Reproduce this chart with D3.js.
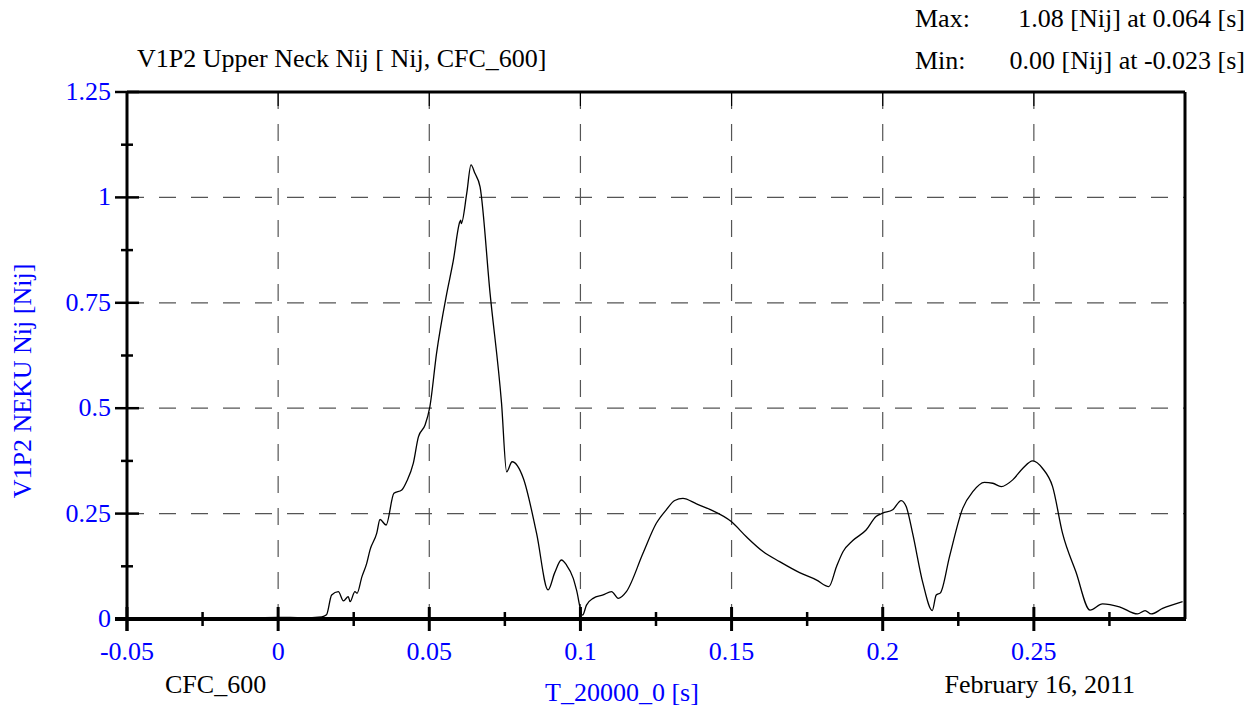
<!DOCTYPE html>
<html>
<head>
<meta charset="utf-8">
<script src="https://cdn.jsdelivr.net/npm/d3@7"></script>
<style>
  body { margin: 0; background: #fff; }
  svg text { font-family: "Liberation Serif", "Times New Roman", serif; }
</style>
</head>
<body>
<div id="chart-area"></div>
<script>
// Upper neck Nij trace
var times = [-0.05, -0.03, -0.023, -0.01, 0, 0.008, 0.0144, 0.016, 0.0177, 0.0199, 0.0216, 0.0232, 0.0238,
  0.0254, 0.0261, 0.0277, 0.0293, 0.0304, 0.0326, 0.0337, 0.0357, 0.0383, 0.0409, 0.0425, 0.0447,
  0.0464, 0.0486, 0.0502, 0.0524, 0.0558, 0.0579, 0.0601, 0.0604, 0.0606, 0.0624, 0.0638, 0.0651,
  0.0668, 0.0701, 0.0739, 0.0756, 0.0774, 0.0811, 0.0855, 0.0893, 0.0915, 0.0937, 0.0954, 0.0976,
  0.0987, 0.1007, 0.102, 0.1042, 0.1075, 0.1103, 0.1125, 0.1152, 0.1207, 0.1251, 0.1284, 0.1312,
  0.1339, 0.1384, 0.1428, 0.1499, 0.1549, 0.1604, 0.1659, 0.1725, 0.178, 0.1822, 0.1847, 0.1869,
  0.1901, 0.1945, 0.1978, 0.2, 0.2033, 0.2061, 0.2078, 0.2099, 0.2133, 0.2164, 0.2177, 0.2191,
  0.2221, 0.2265, 0.2298, 0.2336, 0.2364, 0.2392, 0.243, 0.2463, 0.2496, 0.2529, 0.2562, 0.2595,
  0.2639, 0.2686, 0.2727, 0.2783, 0.2843, 0.2868, 0.2888, 0.2926, 0.2992];
var nij = [0, 0, 0, 0.002, 0.004, 0.003, 0.005, 0.01, 0.057, 0.065, 0.043, 0.053, 0.041,
  0.065, 0.061, 0.10, 0.132, 0.164, 0.203, 0.236, 0.223, 0.298, 0.306, 0.326, 0.369,
  0.432, 0.46, 0.504, 0.63, 0.773, 0.848, 0.942, 0.946, 0.938, 1.01, 1.077, 1.057,
  1.025, 0.773, 0.512, 0.349, 0.373, 0.334, 0.203, 0.069, 0.11, 0.14, 0.128, 0.097,
  0.069, 0.009, 0.033, 0.049, 0.057, 0.065, 0.049, 0.065, 0.156, 0.227, 0.259, 0.281,
  0.286, 0.273, 0.26, 0.231, 0.195, 0.16, 0.136, 0.11, 0.093, 0.077, 0.124, 0.16,
  0.186, 0.211, 0.243, 0.251, 0.259, 0.281, 0.266, 0.203, 0.085, 0.02, 0.057, 0.062,
  0.148, 0.263, 0.302, 0.324, 0.322, 0.314, 0.33, 0.357, 0.375, 0.357, 0.314, 0.203,
  0.112, 0.021, 0.036, 0.029, 0.012, 0.02, 0.012, 0.025, 0.041];

var xTicks = [-0.05, 0, 0.05, 0.1, 0.15, 0.2, 0.25];
var xLabels = ["-0.05", "0", "0.05", "0.1", "0.15", "0.2", "0.25"];
var yTicks = [0, 0.25, 0.5, 0.75, 1, 1.25];
var yLabels = ["0", "0.25", "0.5", "0.75", "1", "1.25"];
var xMinor = [-0.025, 0.025, 0.075, 0.125, 0.175, 0.225, 0.275];
var yMinor = [0.125, 0.375, 0.625, 0.875, 1.125];

var W = 1258, H = 711;
var mLeft = 127, mRight = 1185, mTop = 92, mBottom = 619;
var blue = "#0000ff";
var fs = 26;

var svg = d3.select("#chart-area").append("svg")
    .attr("width", W)
    .attr("height", H);

const x = d3.scaleLinear().domain([-0.05, 0.3]).range([mLeft, mRight]);
const y = d3.scaleLinear().domain([0, 1.25]).range([mBottom, mTop]);

// dashed grid
svg.append("g").selectAll("line").data(xTicks.slice(1)).enter().append("line")
    .attr("x1", d => x(d)).attr("x2", d => x(d))
    .attr("y1", mTop).attr("y2", mBottom)
    .attr("stroke", "#555").attr("stroke-width", 1.2)
    .attr("stroke-dasharray", "17,15");
svg.append("g").selectAll("line").data(yTicks.slice(1, -1)).enter().append("line")
    .attr("x1", mLeft).attr("x2", mRight)
    .attr("y1", d => y(d)).attr("y2", d => y(d))
    .attr("stroke", "#555").attr("stroke-width", 1.2)
    .attr("stroke-dasharray", "17,15");

// frame
svg.append("line").attr("x1", mLeft).attr("x2", mRight).attr("y1", mTop).attr("y2", mTop)
    .attr("stroke", "#000").attr("stroke-width", 3);
svg.append("line").attr("x1", mRight).attr("x2", mRight).attr("y1", mTop).attr("y2", mBottom)
    .attr("stroke", "#000").attr("stroke-width", 3);

// top inner ticks
svg.append("g").selectAll("line").data(xTicks.slice(1)).enter().append("line")
    .attr("x1", d => x(d)).attr("x2", d => x(d))
    .attr("y1", mTop).attr("y2", mTop + 14)
    .attr("stroke", "#000").attr("stroke-width", 1.2);

// curve
var pts = times.map((t, i) => [t, nij[i]]);
svg.append("path")
    .datum(pts)
    .attr("fill", "none")
    .attr("stroke", "#000")
    .attr("stroke-width", 1.3)
    .attr("d", d3.line().x(d => x(d[0])).y(d => y(d[1])).curve(d3.curveMonotoneX));

// x axis
var xAxis = svg.append("g").attr("transform", "translate(0," + mBottom + ")");
xAxis.append("line").attr("x1", mLeft - 12).attr("x2", mRight + 1)
    .attr("stroke", "#000").attr("stroke-width", 4);
xAxis.selectAll(".maj").data(xTicks).enter().append("line")
    .attr("x1", d => x(d)).attr("x2", d => x(d)).attr("y1", -12).attr("y2", 12)
    .attr("stroke", "#000").attr("stroke-width", 3);
xAxis.selectAll(".min").data(xMinor).enter().append("line")
    .attr("x1", d => x(d)).attr("x2", d => x(d)).attr("y1", -7).attr("y2", 7)
    .attr("stroke", "#000").attr("stroke-width", 2.5);
xAxis.selectAll("text").data(xTicks).enter().append("text")
    .attr("x", d => x(d)).attr("y", 41)
    .attr("text-anchor", "middle").attr("fill", blue).attr("font-size", fs)
    .text((d, i) => xLabels[i]);

// y axis
var yAxis = svg.append("g").attr("transform", "translate(" + mLeft + ",0)");
yAxis.append("line").attr("y1", mTop - 1).attr("y2", mBottom + 12)
    .attr("stroke", "#000").attr("stroke-width", 3);
yAxis.selectAll(".maj").data(yTicks).enter().append("line")
    .attr("x1", -12).attr("x2", 12).attr("y1", d => y(d)).attr("y2", d => y(d))
    .attr("stroke", "#000").attr("stroke-width", 2.5);
yAxis.selectAll(".min").data(yMinor).enter().append("line")
    .attr("x1", -6).attr("x2", 6).attr("y1", d => y(d)).attr("y2", d => y(d))
    .attr("stroke", "#000").attr("stroke-width", 2.5);
yAxis.selectAll("text").data(yTicks).enter().append("text")
    .attr("x", -16).attr("y", d => y(d) + 8)
    .attr("text-anchor", "end").attr("fill", blue).attr("font-size", fs)
    .text((d, i) => yLabels[i]);

// texts
svg.append("text").attr("x", 137).attr("y", 67).attr("font-size", fs)
    .text("V1P2 Upper Neck Nij [ Nij, CFC_600]");
svg.append("text").attr("x", 915).attr("y", 27).attr("font-size", fs).text("Max:");
svg.append("text").attr("x", 1245).attr("y", 27).attr("font-size", fs).attr("text-anchor", "end")
    .text("1.08 [Nij] at 0.064 [s]");
svg.append("text").attr("x", 915).attr("y", 69).attr("font-size", fs).text("Min:");
svg.append("text").attr("x", 1245).attr("y", 69).attr("font-size", fs).attr("text-anchor", "end")
    .text("0.00 [Nij] at -0.023 [s]");
svg.append("text").attr("x", 165).attr("y", 693).attr("font-size", fs).text("CFC_600");
svg.append("text").attr("x", 622).attr("y", 701).attr("font-size", fs).attr("text-anchor", "middle")
    .attr("fill", blue).text("T_20000_0 [s]");
svg.append("text").attr("x", 1135).attr("y", 693).attr("font-size", fs).attr("text-anchor", "end")
    .text("February 16, 2011");
svg.append("text").attr("transform", "translate(31,381) rotate(-90)")
    .attr("font-size", fs).attr("text-anchor", "middle").attr("fill", blue)
    .text("V1P2 NEKU Nij [Nij]");
</script>
</body>
</html>
